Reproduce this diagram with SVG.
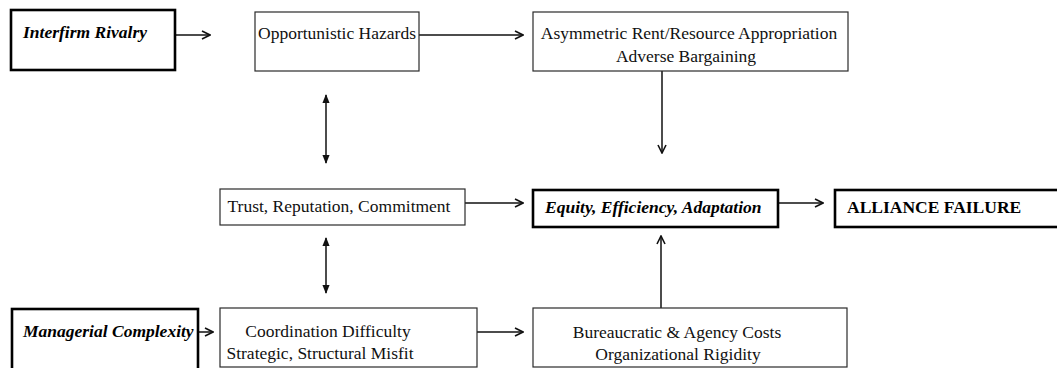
<svg xmlns="http://www.w3.org/2000/svg" width="1057" height="368" viewBox="0 0 1057 368">
  <defs>
    <style>
      .box { fill: #fff; stroke: #2a2a2a; stroke-width: 1.2; }
      .key { fill: #fff; stroke: #000; stroke-width: 2.6; }
      .t { font-family: "Liberation Serif", "Times New Roman", serif; font-size: 17.5px; fill: #111; }
      .bi { font-family: "Liberation Serif", "Times New Roman", serif; font-size: 17.5px; font-weight: bold; font-style: italic; fill: #000; }
      .b { font-family: "Liberation Serif", "Times New Roman", serif; font-size: 17.5px; font-weight: bold; fill: #000; }
      .c { text-anchor: middle; }
      .link { fill: none; stroke: #111; stroke-width: 1.5; }
    </style>
    <marker id="open" viewBox="0 0 10 10" refX="9" refY="5" markerWidth="10" markerHeight="10" markerUnits="userSpaceOnUse" orient="auto">
      <path d="M1,1 L9,5 L1,9" fill="none" stroke="#111" stroke-width="1.6"/>
    </marker>
    <marker id="solid" viewBox="0 0 10 10" refX="9" refY="5" markerWidth="9" markerHeight="9" markerUnits="userSpaceOnUse" orient="auto-start-reverse">
      <path d="M0,1 L10,5 L0,9 Z" fill="#111"/>
    </marker>
  </defs>

  <g id="connectors">
    <line class="link" x1="175" y1="35" x2="210" y2="35" marker-end="url(#open)"/>
    <line class="link" x1="419" y1="35" x2="523" y2="35" marker-end="url(#open)"/>
    <line class="link" x1="662" y1="71" x2="662" y2="153" marker-end="url(#open)"/>
    <line class="link" x1="326" y1="95" x2="326" y2="163" marker-start="url(#solid)" marker-end="url(#solid)"/>
    <line class="link" x1="326" y1="238" x2="326" y2="293" marker-start="url(#solid)" marker-end="url(#solid)"/>
    <line class="link" x1="465" y1="203" x2="523" y2="203" marker-end="url(#open)"/>
    <line class="link" x1="778" y1="203" x2="823" y2="203" marker-end="url(#open)"/>
    <line class="link" x1="198" y1="332" x2="213" y2="332" marker-end="url(#open)"/>
    <line class="link" x1="477" y1="332" x2="523" y2="332" marker-end="url(#open)"/>
    <line class="link" x1="661" y1="308" x2="661" y2="236" marker-end="url(#open)"/>
  </g>

  <g id="interfirm-rivalry">
    <rect class="key" x="11" y="10" width="164" height="60"/>
    <text class="bi" x="23" y="38">Interfirm Rivalry</text>
  </g>

  <g id="opportunistic-hazards">
    <rect class="box" x="255" y="12" width="164" height="59"/>
    <text class="t" x="258" y="39">Opportunistic Hazards</text>
  </g>

  <g id="asymmetric-appropriation">
    <rect class="box" x="533" y="12" width="315" height="59"/>
    <text class="t c" x="689" y="39">Asymmetric Rent/Resource Appropriation</text>
    <text class="t c" x="686" y="62">Adverse Bargaining</text>
  </g>

  <g id="trust-reputation">
    <rect class="box" x="220" y="189" width="245" height="36"/>
    <text class="t c" x="339" y="212">Trust, Reputation, Commitment</text>
  </g>

  <g id="equity-efficiency">
    <rect class="key" x="533" y="190" width="245" height="37"/>
    <text class="bi" x="545" y="213">Equity, Efficiency, Adaptation</text>
  </g>

  <g id="alliance-failure">
    <rect class="key" x="835" y="190" width="240" height="37"/>
    <text class="b" x="847" y="213">ALLIANCE FAILURE</text>
  </g>

  <g id="managerial-complexity">
    <rect class="key" x="12" y="309" width="186" height="64"/>
    <text class="bi" x="23" y="337">Managerial Complexity</text>
  </g>

  <g id="coordination-difficulty">
    <rect class="box" x="220" y="308" width="257" height="59"/>
    <text class="t c" x="328" y="337">Coordination Difficulty</text>
    <text class="t c" x="320" y="359">Strategic, Structural Misfit</text>
  </g>

  <g id="bureaucratic-costs">
    <rect class="box" x="533" y="308" width="314" height="59"/>
    <text class="t c" x="677" y="338">Bureaucratic &amp; Agency Costs</text>
    <text class="t c" x="678" y="360">Organizational Rigidity</text>
  </g>
</svg>
